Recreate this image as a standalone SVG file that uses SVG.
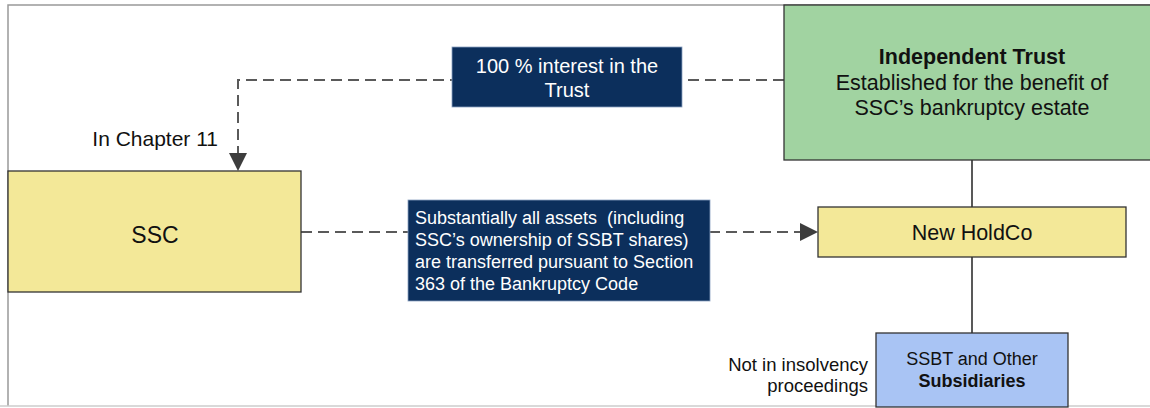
<svg xmlns="http://www.w3.org/2000/svg" width="1150" height="408" viewBox="0 0 1150 408">
<defs>
<style>
text{font-family:"Liberation Sans",Arial,sans-serif;fill:#111}
.box{stroke:#333;stroke-width:1.3}
.lbl{fill:#0c2f5c;stroke:#8aa0c0;stroke-width:0.8}
.lt{fill:#fff}
.dash{fill:none;stroke:#5a5a5a;stroke-width:2;stroke-dasharray:11 6}
.solid{fill:none;stroke:#222;stroke-width:1.5}
</style>
</defs>
<rect width="1150" height="408" fill="#fff"/>
<path d="M8,406 L8,5 L1150,5" fill="none" stroke="#999" stroke-width="1.5"/>
<line x1="0" y1="406" x2="1150" y2="406" stroke="#ccc" stroke-width="1.5"/>
<g id="connectors">
<path class="dash" d="M784,80 L238,80 L238,156"/>
<path d="M229,153 L247,153 L238,171 Z" fill="#3d3d3d"/>
<path class="dash" d="M301,232 L802,232"/>
<path d="M800,223 L818,232 L800,241 Z" fill="#3d3d3d"/>
<line class="solid" x1="972" y1="160" x2="972" y2="207"/>
<line class="solid" x1="972" y1="257" x2="972" y2="333"/>
</g>
<g id="trust">
<rect class="box" x="784" y="5" width="370" height="155" fill="#a1d3a1"/>
<text x="972" y="64" text-anchor="middle" font-size="21.5" font-weight="bold">Independent Trust</text>
<text x="972" y="90" text-anchor="middle" font-size="21.5">Established for the benefit of</text>
<text x="972" y="115" text-anchor="middle" font-size="21.5">SSC’s bankruptcy estate</text>
</g>
<g id="label-interest">
<rect class="lbl" x="452" y="47" width="230" height="60"/>
<text class="lt" x="567" y="73" text-anchor="middle" font-size="20">100 % interest in the</text>
<text class="lt" x="567" y="97" text-anchor="middle" font-size="20">Trust</text>
</g>
<g id="chapter11">
<text x="218" y="146" text-anchor="end" font-size="21">In Chapter 11</text>
</g>
<g id="ssc">
<rect class="box" x="8" y="171" width="293" height="121" fill="#f3e898"/>
<text x="155" y="243" text-anchor="middle" font-size="23">SSC</text>
</g>
<g id="label-assets">
<rect class="lbl" x="408" y="200" width="302" height="101"/>
<text class="lt" x="415" y="224" font-size="18" xml:space="preserve">Substantially all assets  (including</text>
<text class="lt" x="415" y="246" font-size="18">SSC’s ownership of SSBT shares)</text>
<text class="lt" x="415" y="268" font-size="18">are transferred pursuant to Section</text>
<text class="lt" x="415" y="290" font-size="18">363 of the Bankruptcy Code</text>
</g>
<g id="newholdco">
<rect class="box" x="818" y="207" width="308" height="50" fill="#f3e898"/>
<text x="972" y="240" text-anchor="middle" font-size="21.5">New HoldCo</text>
</g>
<g id="ssbt">
<rect class="box" x="876" y="333" width="192" height="74" fill="#a9c4f4"/>
<text x="972" y="365" text-anchor="middle" font-size="18">SSBT and Other</text>
<text x="972" y="387" text-anchor="middle" font-size="18" font-weight="bold">Subsidiaries</text>
</g>
<g id="not-insolvency">
<text x="868" y="371" text-anchor="end" font-size="18.5">Not in insolvency</text>
<text x="868" y="392" text-anchor="end" font-size="18.5">proceedings</text>
</g>
</svg>
